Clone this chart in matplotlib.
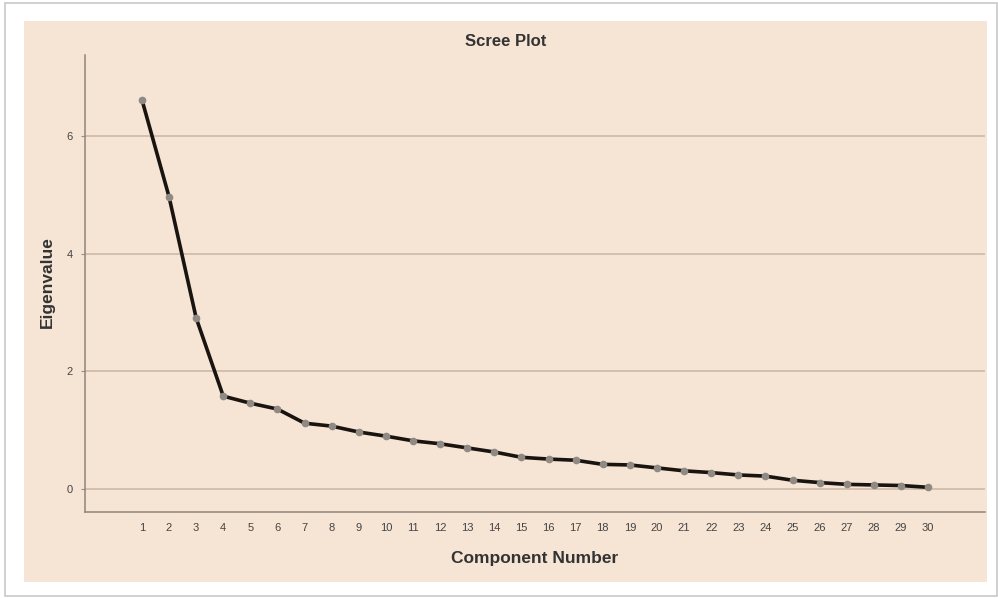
import matplotlib
matplotlib.use("Agg")
import matplotlib.pyplot as plt
from matplotlib.patches import Rectangle

plt.rcParams["font.family"] = ["Liberation Sans", "DejaVu Sans"]

components = list(range(1, 31))
eigenvalues = [6.62, 4.97, 2.91, 1.58, 1.46, 1.36, 1.12, 1.07, 0.97, 0.90,
               0.82, 0.77, 0.70, 0.63, 0.54, 0.51, 0.49, 0.42, 0.41, 0.36,
               0.31, 0.28, 0.24, 0.22, 0.15, 0.11, 0.08, 0.07, 0.06, 0.03]
y_ticks = [0, 2, 4, 6]
title = "Scree Plot"
x_label = "Component Number"
y_label = "Eigenvalue"

W, H = 998, 598
fig = plt.figure(figsize=(W / 100, H / 100), dpi=100)
fig.patch.set_facecolor("white")

def px(x0, y0, x1, y1):
    return [x0 / W, 1 - y1 / H, (x1 - x0) / W, (y1 - y0) / H]

# outer frame border
fig.patches.append(Rectangle((5 / W, 1 - 596 / H), 992 / W, 593 / H,
                             transform=fig.transFigure, facecolor="white",
                             edgecolor="#c8c8c8", lw=1.2, zorder=-3))
# beige panel
fig.patches.append(Rectangle((24 / W, 1 - 582 / H), (987 - 24) / W, (582 - 21) / H,
                             transform=fig.transFigure, facecolor="#f6e4d4",
                             edgecolor="none", zorder=-2))

ax = fig.add_axes(px(85, 55, 985, 512))
ax.set_facecolor("none")
ax.set_xlim(-1.1, 32.1)
ax.set_ylim(-0.39, 7.38)

for y in y_ticks:
    ax.axhline(y, color="#cbb6a3", lw=1.1, zorder=1)

ax.plot(components, eigenvalues, color="#1a1410", lw=2.6, zorder=3,
        marker="o", markersize=4.5, markerfacecolor="#8f8a84",
        markeredgecolor="#8f8a84")

ax.set_xticks(components)
ax.set_xticklabels([str(c) for c in components])
ax.set_yticks(y_ticks)
ax.tick_params(axis="x", length=0, pad=8, labelsize=8, colors="#444444")
ax.tick_params(axis="y", length=3, width=0.8, color="#9a8f85", pad=6,
               labelsize=8, labelcolor="#444444")

for s in ["top", "right"]:
    ax.spines[s].set_visible(False)
for s in ["left", "bottom"]:
    ax.spines[s].set_color("#8f857b")
    ax.spines[s].set_linewidth(1.1)

fig.text(506 / W, 1 - 41 / H, title, ha="center", va="center",
         fontsize=12, fontweight="bold", color="#333333")
fig.text(535 / W, 1 - 558 / H, x_label, ha="center", va="center",
         fontsize=12.5, fontweight="bold", color="#333333")
fig.text(47 / W, 1 - 282 / H, y_label, ha="center", va="center",
         rotation=90, fontsize=12.5, fontweight="bold", color="#333333")

fig.savefig("out.png", dpi=100)
